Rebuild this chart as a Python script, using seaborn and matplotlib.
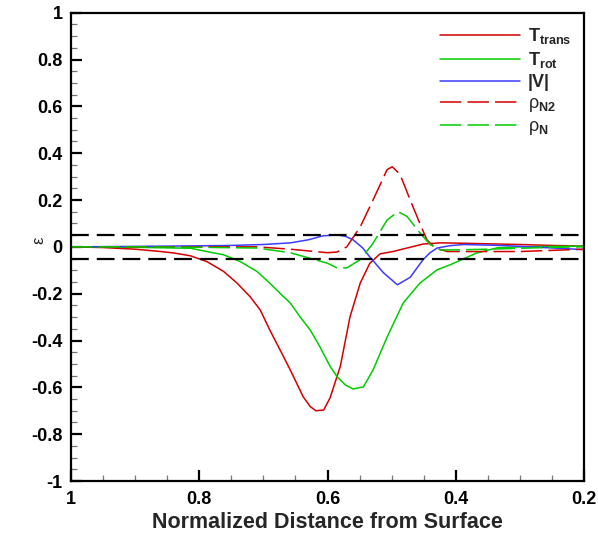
import matplotlib
matplotlib.use("Agg")
import matplotlib.pyplot as plt
import seaborn as sns
import numpy as np
from matplotlib.ticker import MultipleLocator, FuncFormatter

# ---------------- data ----------------
x_ttrans = [1.0, 0.95, 0.9, 0.86, 0.84, 0.814, 0.788, 0.762, 0.741, 0.721, 0.705, 0.69, 0.674,
            0.658, 0.648, 0.638, 0.627, 0.618, 0.606, 0.596, 0.58, 0.565, 0.549, 0.534, 0.518,
            0.498, 0.476, 0.451, 0.424, 0.4, 0.35, 0.3, 0.25, 0.2]
y_ttrans = [0.0, -0.003, -0.01, -0.02, -0.026, -0.038, -0.063, -0.105, -0.155, -0.212, -0.269, -0.355, -0.44,
            -0.526, -0.583, -0.64, -0.682, -0.70, -0.697, -0.645, -0.51, -0.30, -0.155, -0.07, -0.03,
            -0.02, -0.005, 0.012, 0.017, 0.016, 0.013, 0.01, 0.006, 0.003]

x_trot = [1.0, 0.9, 0.814, 0.762, 0.736, 0.71, 0.69, 0.669, 0.658, 0.643, 0.627, 0.612, 0.596,
          0.585, 0.572, 0.56, 0.544, 0.529, 0.507, 0.482, 0.456, 0.429, 0.409, 0.367, 0.335,
          0.3, 0.25, 0.2]
y_trot = [0.0, -0.002, -0.006, -0.034, -0.063, -0.105, -0.155, -0.212, -0.24, -0.298, -0.355, -0.426, -0.51,
          -0.555, -0.59, -0.607, -0.598, -0.526, -0.385, -0.24, -0.155, -0.098, -0.077, -0.026, -0.004,
          0.0, 0.002, 0.003]

x_v = [1.0, 0.9, 0.814, 0.75, 0.7, 0.658, 0.63, 0.607, 0.585, 0.572, 0.56, 0.545, 0.534,
       0.513, 0.491, 0.471, 0.451, 0.44, 0.429, 0.409, 0.388, 0.33, 0.284, 0.24, 0.2]
y_v = [0.0, 0.002, 0.004, 0.006, 0.01, 0.017, 0.03, 0.047, 0.051, 0.045, 0.03, -0.005, -0.043,
       -0.11, -0.162, -0.13, -0.055, -0.025, -0.005, 0.005, 0.01, 0.006, 0.0, -0.006, -0.012]

x_rn2 = [1.0, 0.9, 0.8, 0.71, 0.658, 0.6, 0.585, 0.57, 0.549, 0.529, 0.507, 0.499, 0.487,
         0.471, 0.456, 0.445, 0.432, 0.413, 0.35, 0.3, 0.25, 0.2]
y_rn2 = [0.0, 0.0, 0.0, 0.0, -0.01, -0.025, -0.022, 0.0, 0.085, 0.2, 0.33, 0.342, 0.31,
         0.2, 0.1, 0.03, -0.005, -0.02, -0.02, -0.02, -0.015, -0.01]

x_rn = [1.0, 0.9, 0.8, 0.71, 0.658, 0.6, 0.585, 0.57, 0.549, 0.529, 0.507, 0.49, 0.476,
        0.456, 0.44, 0.424, 0.4, 0.35, 0.3, 0.25, 0.2]
y_rn = [0.0, 0.0, -0.002, -0.005, -0.025, -0.07, -0.09, -0.09, -0.055, 0.015, 0.115, 0.15, 0.13,
        0.06, 0.01, -0.013, -0.013, -0.01, -0.006, -0.002, 0.0]

thresholds = [0.05, -0.05]

labels = [r'T$_{\mathregular{trans}}$', r'T$_{\mathregular{rot}}$', r'|V|',
          r'$\rho$$_{\mathregular{N2}}$', r'$\rho$$_{\mathregular{N}}$']
xticks = [1, 0.8, 0.6, 0.4, 0.2]
yticks = [-1, -0.8, -0.6, -0.4, -0.2, 0, 0.2, 0.4, 0.6, 0.8, 1]

# ---------------- style ----------------
sns.set_style("white")
plt.rcParams['font.family'] = ['Liberation Sans', 'DejaVu Sans']
plt.rcParams['mathtext.fontset'] = 'custom'
plt.rcParams['mathtext.rm'] = 'Liberation Sans'
plt.rcParams['mathtext.it'] = 'Liberation Sans'
plt.rcParams['mathtext.bf'] = 'Liberation Sans:bold'

RED = '#d40000'
GREEN = '#00cc00'
BLUE = '#3c3cff'

fig = plt.figure(figsize=(5.98, 5.38), dpi=100)
ax = fig.add_axes([71/598, 1-481/538, (584-71)/598, (481-12.7)/538])

series = [
    (x_ttrans, y_ttrans, RED, '-', labels[0]),
    (x_trot, y_trot, GREEN, '-', labels[1]),
    (x_v, y_v, BLUE, '-', labels[2]),
    (x_rn2, y_rn2, RED, (0, (14, 4)), labels[3]),
    (x_rn, y_rn, GREEN, (0, (14, 4)), labels[4]),
]
for xs, ys, c, ls, lab in series:
    sns.lineplot(x=xs, y=ys, ax=ax, color=c, linestyle=ls, linewidth=1.1,
                 label=lab, estimator=None, sort=False)

for t in thresholds:
    ax.axhline(t, color='black', linewidth=1.6, linestyle=(0, (8, 3.6)), zorder=5)

ax.set_xlim(1, 0.2)
ax.set_ylim(-1, 1)
ax.set_xticks(xticks)
ax.set_yticks(yticks)
ax.xaxis.set_minor_locator(MultipleLocator(0.05))
ax.yaxis.set_minor_locator(MultipleLocator(0.05))

def fmt(v, pos):
    s = f'{v:g}'
    if s == '-0':
        s = '0'
    return s
ax.xaxis.set_major_formatter(FuncFormatter(fmt))
ax.yaxis.set_major_formatter(FuncFormatter(fmt))

for sp in ax.spines.values():
    sp.set_linewidth(1.6)
    sp.set_color('black')

ax.tick_params(which='major', direction='in', length=8, width=1.6, colors='black',
               labelsize=13, left=True, bottom=True, top=False, right=False)
ax.tick_params(which='minor', direction='in', length=4.5, width=0.9, color='#777777',
               left=True, bottom=True, top=False, right=False)
ax.tick_params(axis='x', which='major', pad=7)
ax.tick_params(axis='y', which='major', pad=6)
for lab in ax.get_xticklabels() + ax.get_yticklabels():
    lab.set_fontweight('bold')

ax.set_xlabel('Normalized Distance from Surface', fontsize=15.5, fontweight='bold', labelpad=3)
ax.set_ylabel('ε', fontsize=12)
ax.yaxis.set_label_coords(-0.048, 0.515)

leg = ax.legend(loc='upper right', bbox_to_anchor=(1.0, 0.998), frameon=False,
                prop={'size': 13, 'weight': 'bold'},
                handlelength=4.4, handletextpad=0.45, labelspacing=0.22, borderaxespad=0.3)

fig.savefig('out.png', dpi=100)
